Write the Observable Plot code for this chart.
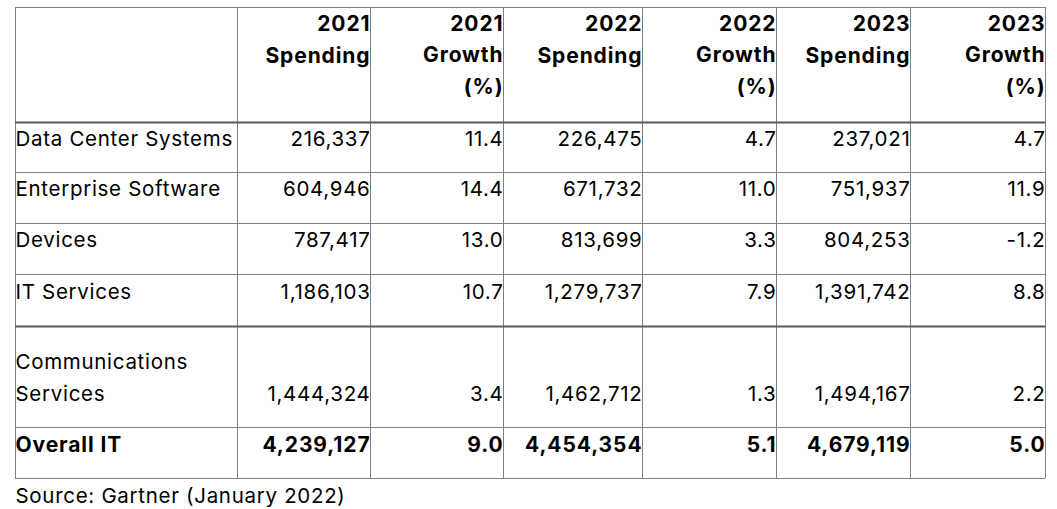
<!DOCTYPE html>
<html>
<head>
<meta charset="utf-8">
<script src="https://cdn.jsdelivr.net/npm/d3@7"></script>
<script src="https://cdn.jsdelivr.net/npm/@observablehq/plot@0.6"></script>
<style>
  html, body { margin: 0; padding: 0; background: #fff; }
  svg.tbl { letter-spacing: 0.7px; }
  svg.tbl g[font-weight="700"] { letter-spacing: 0.9px; }
</style>
</head>
<body>
<div id="chart"></div>
<script>
// ---------- data ----------
const spendingHeaders = ["2021\nSpending", "2022\nSpending", "2023\nSpending"];
const growthHeaders = ["2021\nGrowth\n(%)", "2022\nGrowth\n(%)", "2023\nGrowth\n(%)"];
const categories = [
  "Data Center Systems",
  "Enterprise Software",
  "Devices",
  "IT Services",
  "Communications\nServices",
  "Overall IT"
];
const spending2021 = [216337, 604946, 787417, 1186103, 1444324, 4239127];
const growth2021   = [11.4, 14.4, 13.0, 10.7, 3.4, 9.0];
const spending2022 = [226475, 671732, 813699, 1279737, 1462712, 4454354];
const growth2022   = [4.7, 11.0, 3.3, 7.9, 1.3, 5.1];
const spending2023 = [237021, 751937, 804253, 1391742, 1494167, 4679119];
const growth2023   = [4.7, 11.9, -1.2, 8.8, 2.2, 5.0];
const sourceNote = "Source: Gartner (January 2022)";

// ---------- layout (grid boundaries) ----------
const colEdges = [15, 237, 370, 503, 642, 776, 910, 1045];
const rowEdges = [7, 122, 172, 223, 274, 326, 427, 478];
const rowBaseline = [23, 23.5, 23.3, 24, 74.5, 24.5]; // baseline offset from each row's top edge
const FONT = "Inter, 'Noto Sans', sans-serif";
const FS = 20.5;
const FSB = 21;
const W = 1057, H = 509;

const series = [spending2021, growth2021, spending2022, growth2022, spending2023, growth2023];
const fmtSpend = d3.format(",");
const fmtGrowth = v => v.toFixed(1);

const cells = [];
categories.forEach((cat, r) => {
  series.forEach((s, c) => {
    cells.push({
      row: r,
      col: c,
      text: c % 2 === 0 ? fmtSpend(s[r]) : fmtGrowth(s[r])
    });
  });
});
const labelRows = categories.map((name, r) => ({row: r, name}));

const headerSpend = spendingHeaders.map((t, i) => ({col: i * 2, t}));
const headerGrowth = growthHeaders.map((t, i) => ({col: i * 2 + 1, t}));

const hLines = rowEdges.map((y, i) => ({y, thick: i === 1 || i === 5}));
const vLines = colEdges.map(x => ({x}));
const gridLeft = colEdges[0], gridRight = colEdges[colEdges.length - 1];
const gridTop = rowEdges[0], gridBottom = rowEdges[rowEdges.length - 1];

const rowMarks = [];
categories.forEach((cat, r) => {
  const bold = r === categories.length - 1;
  rowMarks.push(
    Plot.text(labelRows.filter(d => d.row === r), {
      x: () => gridLeft, y: d => rowEdges[d.row + 1], text: "name",
      textAnchor: "start", lineAnchor: "bottom", lineHeight: 1.55,
      dx: 0, dy: rowBaseline[r],
      fontSize: bold ? FSB : FS, fontFamily: FONT, fontWeight: bold ? 700 : 400, fill: "#000"
    }),
    Plot.text(cells.filter(d => d.row === r), {
      x: d => colEdges[d.col + 2], y: d => rowEdges[d.row + 1], text: "text",
      textAnchor: "end", lineAnchor: "bottom",
      dx: 0, dy: rowBaseline[r],
      fontSize: bold ? FSB : FS, fontFamily: FONT, fontWeight: bold ? 700 : 400, fill: "#000"
    })
  );
});

const chart = Plot.plot({
  width: W,
  height: H,
  margin: 0,
  className: "tbl",
  x: {domain: [0, W], range: [0, W], axis: null},
  y: {domain: [0, H], range: [0, H], axis: null},
  style: {background: "#fff"},
  marks: [
    Plot.ruleY(hLines.filter(d => !d.thick), {y: "y", x1: gridLeft, x2: gridRight, stroke: "#7f7f7f", strokeWidth: 1}),
    Plot.ruleX(vLines, {x: "x", y1: gridTop, y2: gridBottom, stroke: "#7f7f7f", strokeWidth: 1}),
    Plot.ruleY(hLines.filter(d => d.thick), {y: "y", x1: gridLeft, x2: gridRight, stroke: "#595959", strokeWidth: 2}),
    Plot.text(headerSpend, {
      x: d => colEdges[d.col + 2], y: () => gridTop, text: "t",
      textAnchor: "end", lineAnchor: "bottom", lineHeight: 1.5,
      dx: 0, dy: 24 + 31,
      fontSize: FSB, fontFamily: FONT, fontWeight: 700, fill: "#000"
    }),
    Plot.text(headerGrowth, {
      x: d => colEdges[d.col + 2], y: () => gridTop, text: "t",
      textAnchor: "end", lineAnchor: "bottom", lineHeight: 1.5,
      dx: 0, dy: 24 + 62,
      fontSize: FSB, fontFamily: FONT, fontWeight: 700, fill: "#000"
    }),
    ...rowMarks,
    Plot.text([sourceNote], {
      x: () => gridLeft, y: () => gridBottom, text: d => d,
      textAnchor: "start", lineAnchor: "bottom",
      dx: 0, dy: 24,
      fontSize: FS, fontFamily: FONT, fontWeight: 400, fill: "#000"
    })
  ]
});
document.getElementById("chart").appendChild(chart);
</script>
</body>
</html>
